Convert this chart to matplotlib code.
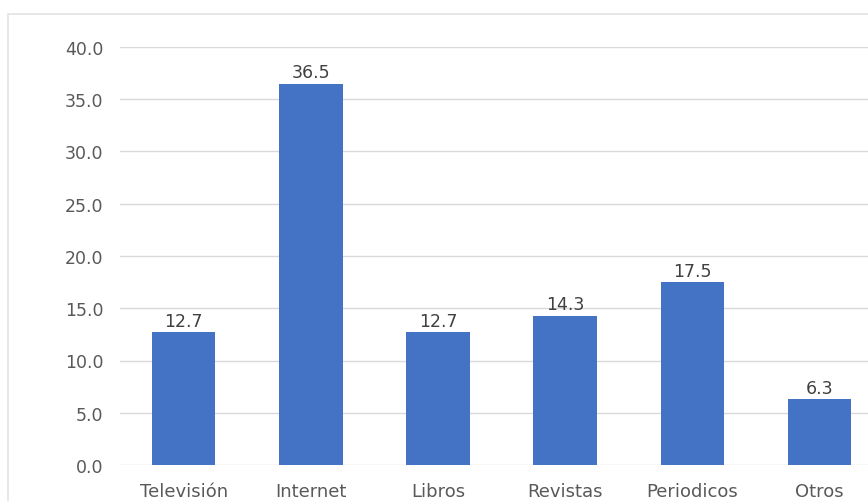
import matplotlib.pyplot as plt
import matplotlib.patches as mpatches
import numpy as np

categorias = ["Televisión", "Internet", "Libros", "Revistas", "Periodicos", "Otros"]
valores = [12.7, 36.5, 12.7, 14.3, 17.5, 6.3]
yticks = [0, 5, 10, 15, 20, 25, 30, 35, 40]

plt.rcParams['font.family'] = ['DejaVu Sans']

fig = plt.figure(figsize=(8.68, 5.02), dpi=100)
fig.patch.set_facecolor("white")

# light frame of the chart area (cut off at right and bottom)
fig.patches.append(mpatches.Rectangle((8 / 868, -0.1), 1.2, (502 - 15) / 502 + 0.1,
                                      transform=fig.transFigure, fill=False,
                                      edgecolor="#E3E3E3", linewidth=1.2))

ax = fig.add_axes([120 / 868, (502 - 466) / 502, 1 - 120 / 868, (466 - 48) / 502])
x = np.arange(len(categorias))
bars = ax.bar(x, valores, width=0.5, color="#4472C4", zorder=3)

for xi, v in zip(x, valores):
    ax.text(xi, v + 0.25, "%.1f" % v, ha="center", va="bottom", fontsize=12.5, color="#404040")

ax.set_ylim(0, 40)
ax.set_xlim(-0.5, 5.38)
ax.set_yticks(yticks)
ax.set_yticklabels(["%.1f" % t for t in yticks], fontsize=12.5, color="#595959")
ax.set_xticks(x)
ax.set_xticklabels(categorias, fontsize=13, color="#595959")
ax.tick_params(axis="both", length=0)
ax.tick_params(axis="y", pad=12)
ax.tick_params(axis="x", pad=12)
ax.grid(axis="y", color="#D9D9D9", linewidth=1, zorder=0)
for s in ax.spines.values():
    s.set_visible(False)

fig.savefig("out.png", dpi=100)
